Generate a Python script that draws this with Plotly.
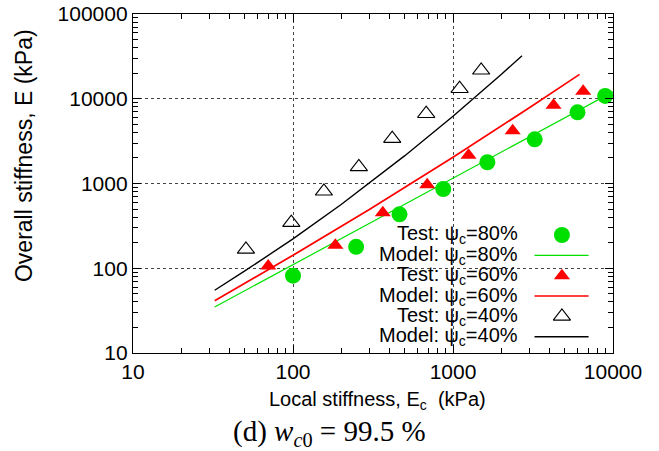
import plotly.graph_objects as go

# ---- data -------------------------------------------------------------
# Local stiffness Ec (kPa) and overall stiffness E (kPa)
EC_TEST_80 = [100, 248, 463, 869, 1640, 3240, 6000, 8940]
E_TEST_80 = [81.7, 179, 433, 861, 1780, 3320, 6920, 10800]

EC_TEST_60 = [70, 184, 364, 690, 1250, 2360, 4250, 6510]
E_TEST_60 = [106, 187, 452, 968, 2150, 4200, 8370, 12240]

EC_TEST_40 = [50.8, 97.6, 156, 258, 417, 680, 1100, 1500]
E_TEST_40 = [167, 345, 809, 1570, 3380, 6660, 13140, 21660]

EC_MODEL_80 = [32.4, 100, 1000, 10000]
E_MODEL_80 = [34.9, 110, 1150, 12100]

EC_MODEL_60 = [32.4, 100, 300, 1000, 3000, 6180]
E_MODEL_60 = [41.4, 142, 493, 2040, 7820, 19400]

EC_MODEL_40 = [32.4, 50, 100, 200, 500, 1000, 2000, 2700]
E_MODEL_40 = [55, 93, 222, 565, 2130, 6230, 19300, 32200]

X_TICKS = ["10", "100", "1000", "10000"]
Y_TICKS = ["10", "100", "1000", "10000", "100000"]

LEGEND_LABELS = [
    "Test: \u03c8<sub>c</sub>=80%",
    "Model: \u03c8<sub>c</sub>=80%",
    "Test: \u03c8<sub>c</sub>=60%",
    "Model: \u03c8<sub>c</sub>=60%",
    "Test: \u03c8<sub>c</sub>=40%",
    "Model: \u03c8<sub>c</sub>=40%",
]

# ---- styles -----------------------------------------------------------
SANS = "Liberation Sans, Arial, Helvetica, sans-serif"
SERIF = "Liberation Serif, Times New Roman, serif"
GREEN = "#00e000"
RED = "#ff0000"
BLACK = "#000000"

X_RANGE = [1, 4]   # log10 of Ec range
Y_RANGE = [1, 5]   # log10 of E range

circle_80 = dict(symbol="circle", size=16, color=GREEN, line=dict(width=0))
tri_60 = dict(symbol="triangle-up", size=14, color=RED, line=dict(width=0))
tri_40 = dict(symbol="triangle-up-open", size=15, color=BLACK, line=dict(width=1.1, color=BLACK))
line_80 = dict(color=GREEN, width=1.2)
line_60 = dict(color=RED, width=1.7)
line_40 = dict(color=BLACK, width=1.4)

fig = go.Figure()

fig.add_trace(go.Scatter(x=EC_TEST_80, y=E_TEST_80, mode="markers", marker=circle_80, cliponaxis=False))
fig.add_trace(go.Scatter(x=EC_MODEL_80, y=E_MODEL_80, mode="lines", line=line_80))
fig.add_trace(go.Scatter(x=EC_TEST_60, y=E_TEST_60, mode="markers", marker=tri_60, cliponaxis=False))
fig.add_trace(go.Scatter(x=EC_MODEL_60, y=E_MODEL_60, mode="lines", line=line_60))
fig.add_trace(go.Scatter(x=EC_TEST_40, y=E_TEST_40, mode="markers", marker=tri_40, cliponaxis=False))
fig.add_trace(go.Scatter(x=EC_MODEL_40, y=E_MODEL_40, mode="lines", line=line_40))

# ---- key (text on the left, sample on the right) -----------------------
# key geometry in fractions of the plot area
KEY_TEXT_X = 0.8066
KEY_SAMPLE_X = 0.8936
KEY_LINE_X = (0.8365, 0.9491)
KEY_TOP = 0.3481
KEY_STEP = 0.0600


def frac_to_x(f):
    return 10 ** (X_RANGE[0] + (X_RANGE[1] - X_RANGE[0]) * f)


def frac_to_y(f):
    return 10 ** (Y_RANGE[0] + (Y_RANGE[1] - Y_RANGE[0]) * f)


key_styles = [
    ("marker", circle_80), ("line", line_80),
    ("marker", tri_60), ("line", line_60),
    ("marker", tri_40), ("line", line_40),
]
for i, (label, (kind, style)) in enumerate(zip(LEGEND_LABELS, key_styles)):
    ky = KEY_TOP - i * KEY_STEP
    fig.add_annotation(
        x=KEY_TEXT_X, y=ky, xref="paper", yref="paper", text=label,
        showarrow=False, xanchor="right", yanchor="middle",
        font=dict(family=SANS, size=20, color="black"),
    )
    if kind == "marker":
        fig.add_trace(go.Scatter(x=[frac_to_x(KEY_SAMPLE_X)], y=[frac_to_y(ky)], mode="markers",
                                 marker=style, cliponaxis=False, hoverinfo="skip"))
    else:
        fig.add_trace(go.Scatter(x=[frac_to_x(f) for f in KEY_LINE_X], y=[frac_to_y(ky)] * 2,
                                 mode="lines", line=style, hoverinfo="skip"))

# opaque key background: hides the grid but not the data
fig.add_shape(type="rect", xref="paper", yref="paper", x0=0.4997, x1=0.9755, y0=0.009, y1=0.401,
              fillcolor="white", line=dict(width=0), layer="between")

# decade ticks (linear in log space), 2..9 minor ticks inside every decade
axis_common = dict(
    type="log", tickmode="linear", tick0=0, dtick=1, tickformat="d",
    ticks="inside", ticklen=8, tickwidth=1.2, tickcolor="black",
    showline=True, linecolor="black", linewidth=1.3, mirror="allticks",
    showgrid=True, gridcolor="#444444", gridwidth=1, griddash="dot",
    zeroline=False, automargin=False,
    tickfont=dict(family=SANS, size=21, color="black"),
    minor=dict(ticks="inside", ticklen=5, tickwidth=1.2, tickcolor="black",
               dtick="D1", showgrid=False),
)

fig.update_layout(
    width=659, height=451,
    margin=dict(l=133, r=46, t=14, b=98, autoexpand=False),
    paper_bgcolor="white", plot_bgcolor="white",
    showlegend=False,
    xaxis=dict(axis_common, range=X_RANGE, labelalias={t: t for t in X_TICKS}),
    yaxis=dict(axis_common, range=Y_RANGE, labelalias={t: t for t in Y_TICKS}),
)

# axis titles and caption
fig.add_annotation(x=0.5, y=0, xref="paper", yref="paper", yshift=-33, xshift=4,
                   text="Local stiffness, E<sub>c</sub>  (kPa)", showarrow=False,
                   xanchor="center", yanchor="top", font=dict(family=SANS, size=20, color="black"))
fig.add_annotation(x=0, y=0.581, xref="paper", yref="paper", xshift=-109,
                   text="Overall stiffness, E (kPa)", textangle=-90, showarrow=False,
                   xanchor="center", yanchor="middle", font=dict(family=SANS, size=23, color="black"))
fig.add_annotation(x=0.41, y=0, xref="paper", yref="paper", yshift=-60,
                   text="(d) <i>w</i><sub><i>c</i>0</sub> = 99.5 %", showarrow=False,
                   xanchor="center", yanchor="top", font=dict(family=SERIF, size=29, color="black"))

fig.write_html("out.html")
